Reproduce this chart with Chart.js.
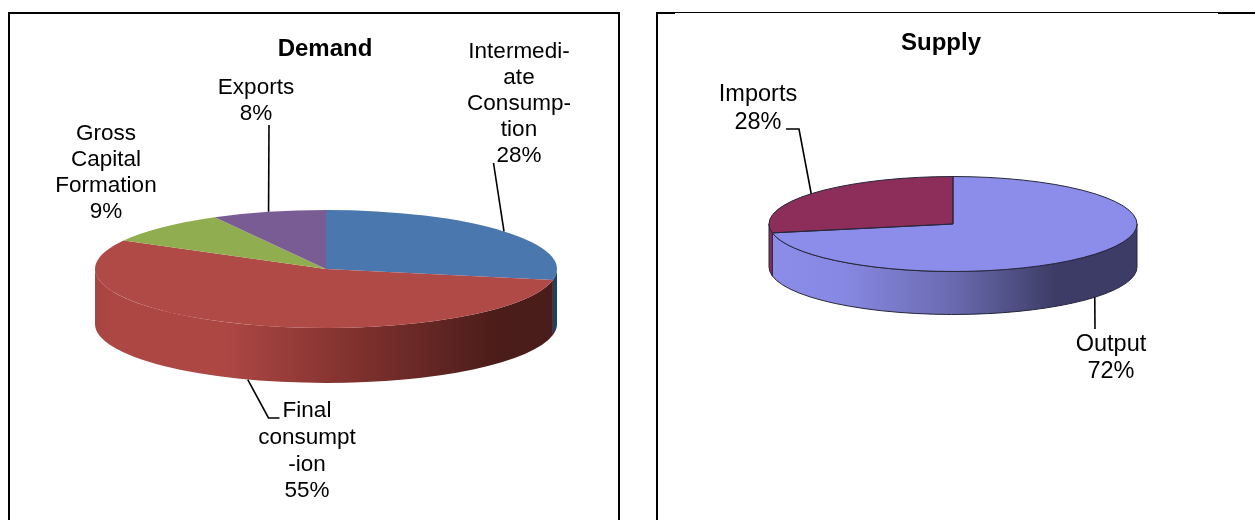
<!DOCTYPE html>
<html>
<head>
<meta charset="utf-8">
<title>Demand and Supply</title>
<script src="https://cdn.jsdelivr.net/npm/chart.js@4"></script>
<style>
    html, body { margin: 0; padding: 0; background: #fff; overflow: hidden; }
    body { width: 1255px; height: 520px; position: relative; }
    canvas { position: absolute; top: 0; }
    .rule { position: absolute; background: #000; z-index: 2; }
</style>
</head>
<body>
<div class="rule" style="left:8px;top:12px;width:612px;height:2px"></div>
<div class="rule" style="left:8px;top:12px;width:2px;height:508px"></div>
<div class="rule" style="left:618px;top:12px;width:2px;height:508px"></div>
<div class="rule" style="left:656px;top:12px;width:599px;height:1px"></div>
<div class="rule" style="left:656px;top:12px;width:19px;height:2px"></div>
<div class="rule" style="left:1218px;top:12px;width:37px;height:2px"></div>
<div class="rule" style="left:656px;top:12px;width:2px;height:508px"></div>
<canvas id="demandChart" width="630" height="520" style="left:0"></canvas>
<canvas id="supplyChart" width="615" height="520" style="left:640px"></canvas>

<script>
const demandLabels = [['Intermedi-', 'ate', 'Consump-', 'tion'], ['Final', 'consumpt', '-ion'], ['Gross', 'Capital', 'Formation'], ['Exports']];
const demandValues = [28, 55, 9, 8];
const demandColors = ['#4a77ad', '#b04a47', '#90ad50', '#7a5c95'];

const supplyLabels = [['Output'], ['Imports']];
const supplyValues = [72, 28];
const supplyColors = ['#8c8dea', '#8d2e5a'];

const FONT = '"Liberation Sans", Arial, sans-serif';

// squashes the flat pie into an ellipse and puts the side wall under it
const pie3d = {
    id: 'pie3d',
    beforeDatasetsDraw(chart, args, opts) {
        const ctx = chart.ctx;
        const arcs = chart.getDatasetMeta(0).data;
        const first = arcs[0];
        const cx = first.x, cy = first.y, r = first.outerRadius;
        const ry = r * opts.tilt;

        arcs.forEach((arc, i) => {
            const from = Math.max(arc.startAngle, 0);
            const to = Math.min(arc.endAngle, Math.PI);
            if (to <= from) return;
            const wall = ctx.createLinearGradient(cx - r, 0, cx + r, 0);
            opts.wallStops[i].forEach(s => wall.addColorStop(s[0], s[1]));
            ctx.save();
            ctx.beginPath();
            ctx.ellipse(cx, cy, r, ry, 0, from, to);
            ctx.ellipse(cx, cy + opts.depth, r, ry, 0, to, from, true);
            ctx.closePath();
            ctx.fillStyle = wall;
            ctx.fill();
            if (opts.outline) {
                ctx.strokeStyle = opts.outline;
                ctx.lineWidth = 1;
                ctx.stroke();
            }
            ctx.restore();
        });

        ctx.save();
        ctx.translate(cx, cy);
        ctx.scale(1, opts.tilt);
        ctx.translate(-cx, -cy);
    },
    afterDatasetsDraw(chart, args, opts) {
        const ctx = chart.ctx;
        ctx.restore();
        if (!opts.outline) return;
        const arcs = chart.getDatasetMeta(0).data;
        arcs.forEach(arc => {
            ctx.save();
            ctx.beginPath();
            ctx.moveTo(arc.x, arc.y);
            ctx.ellipse(arc.x, arc.y, arc.outerRadius, arc.outerRadius * opts.tilt, 0, arc.startAngle, arc.endAngle);
            ctx.closePath();
            ctx.strokeStyle = opts.outline;
            ctx.lineWidth = 1;
            ctx.stroke();
            ctx.restore();
        });
    }
};

// heading, slice captions and the leader lines running to each slice
const callouts = {
    id: 'callouts',
    afterDraw(chart, args, opts) {
        const ctx = chart.ctx;
        const depth = chart.options.plugins.pie3d.depth;
        const tilt = chart.options.plugins.pie3d.tilt;
        const values = chart.data.datasets[0].data;
        const total = values.reduce((a, b) => a + b, 0);
        const arcs = chart.getDatasetMeta(0).data;

        ctx.save();
        ctx.fillStyle = '#000';
        ctx.textAlign = 'center';
        ctx.textBaseline = 'middle';
        ctx.font = 'bold ' + opts.titleSize + 'px ' + FONT;
        ctx.fillText(opts.title, opts.titleAt[0], opts.titleAt[1]);

        ctx.font = opts.textSize + 'px ' + FONT;
        chart.data.labels.forEach((label, i) => {
            const place = opts.places[i];
            const lines = label.concat(Math.round(values[i] / total * 100) + '%');
            lines.forEach((line, n) => ctx.fillText(line, place.x, place.y + n * place.step));

            if (!place.leader) return;
            const mid = (arcs[i].startAngle + arcs[i].endAngle) / 2;
            const ax = arcs[i].x + Math.cos(mid) * arcs[i].outerRadius;
            let ay = arcs[i].y + Math.sin(mid) * arcs[i].outerRadius * tilt;
            if (Math.sin(mid) > 0) ay += depth;
            ctx.beginPath();
            ctx.moveTo(ax, ay);
            place.leader.forEach(p => ctx.lineTo(p[0], p[1]));
            ctx.strokeStyle = '#000';
            ctx.lineWidth = 1.6;
            ctx.stroke();
        });
        ctx.restore();
    }
};

function makePie(id, labels, values, colors, padding, pie3dOpts, calloutOpts) {
    return new Chart(document.getElementById(id).getContext('2d'), {
        type: 'pie',
        data: {
            labels: labels,
            datasets: [{
                data: values,
                backgroundColor: colors,
                borderColor: colors,
                borderWidth: 0,
                hoverOffset: 0
            }]
        },
        options: {
            responsive: false,
            animation: false,
            layout: { padding: padding },
            events: [],
            plugins: {
                legend: { display: false },
                tooltip: { enabled: false },
                pie3d: pie3dOpts,
                callouts: calloutOpts
            }
        },
        plugins: [pie3d, callouts]
    });
}

makePie('demandChart', demandLabels, demandValues, demandColors,
    { left: 95, right: 73, top: 38, bottom: 20 },
    {
        tilt: 0.2554,
        depth: 55,
        wallStops: [
            [[0, '#1f3f63'], [1, '#1f3f63']],
            [[0, '#a8433f'], [0.04, '#ad4744'], [0.28, '#ad4744'], [0.55, '#82322f'], [0.88, '#4a1c1a'], [1, '#4a1c1a']],
            [[0, '#90ad50'], [1, '#90ad50']],
            [[0, '#7a5c95'], [1, '#7a5c95']]
        ]
    },
    {
        title: 'Demand',
        titleAt: [325, 49.5],
        titleSize: 24,
        textSize: 22.5,
        places: [
            { x: 519, y: 52, step: 26, leader: [[493.5, 163]] },
            { x: 307, y: 411, step: 26.7, leader: [[268.5, 418], [279.5, 418]] },
            { x: 106, y: 134, step: 26 },
            { x: 256, y: 88, step: 26, leader: [[269, 125]] }
        ]
    });

makePie('supplyChart', supplyLabels, supplyValues, supplyColors,
    { left: 129, right: 118, top: 40, bottom: 112 },
    {
        tilt: 0.258,
        depth: 43,
        outline: '#26263a',
        wallStops: [
            [[0, '#8c8dea'], [0.2, '#8788e2'], [0.5, '#6a6ab0'], [0.78, '#3c3c66'], [1, '#3c3c66']],
            [[0, '#8d2e5a'], [1, '#8d2e5a']]
        ]
    },
    {
        title: 'Supply',
        titleAt: [301, 43.5],
        titleSize: 24,
        textSize: 23.5,
        places: [
            { x: 471, y: 345, step: 27, leader: [[455, 329]] },
            { x: 118, y: 95, step: 28, leader: [[159, 129], [146, 129]] }
        ]
    });
</script>
</body>
</html>
